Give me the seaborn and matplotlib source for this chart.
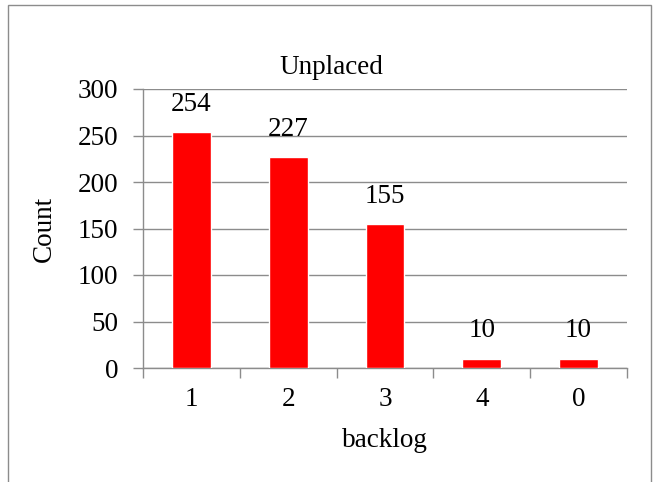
import matplotlib
matplotlib.use("Agg")
import matplotlib.pyplot as plt
import seaborn as sns
import pandas as pd
from matplotlib.patches import Rectangle
from matplotlib.ticker import FixedLocator

categories = ["1", "2", "3", "4", "0"]
counts = [254, 227, 155, 10, 10]
y_ticks = [0, 50, 100, 150, 200, 250, 300]

df = pd.DataFrame({"backlog": categories, "Count": counts})

sns.set_theme(style="white")
plt.rcParams["font.family"] = ["Liberation Serif", "DejaVu Serif"]
plt.rcParams["text.color"] = "black"
plt.rcParams["axes.labelcolor"] = "black"
plt.rcParams["xtick.color"] = "black"
plt.rcParams["ytick.color"] = "black"

FS = 19.5
GRID = "#8c8c8c"

W, H = 665, 482
fig = plt.figure(figsize=(W / 100, H / 100), dpi=100)
ax = fig.add_axes([143 / W, 1 - 368 / H, (627 - 143) / W, (368 - 89) / H])

sns.barplot(data=df, x="backlog", y="Count", order=categories, color="#ff0000",
            saturation=1, width=0.4, ax=ax, zorder=3)

ax.set_ylim(0, 300)
ax.set_xlim(-0.5, len(categories) - 0.5)
ax.set_yticks(y_ticks)
ax.yaxis.grid(True, color=GRID, linewidth=1, zorder=0)
ax.set_axisbelow(True)

for s in ["top", "right"]:
    ax.spines[s].set_visible(False)
for s in ["left", "bottom"]:
    ax.spines[s].set_color(GRID)
    ax.spines[s].set_linewidth(1)

ax.tick_params(axis="y", which="major", direction="out", length=7, width=1,
               color=GRID, labelcolor="black", labelsize=FS, pad=11, left=True)
ax.tick_params(axis="x", which="major", length=0, labelcolor="black",
               labelsize=FS, pad=14)
ax.xaxis.set_minor_locator(FixedLocator([i - 0.5 for i in range(len(categories) + 1)]))
ax.tick_params(axis="x", which="minor", direction="out", length=7, width=1,
               color=GRID, bottom=True)

for i, v in enumerate(counts):
    ax.annotate(str(v), xy=(i, v), xytext=(0, 11), textcoords="offset points",
                ha="center", va="bottom", fontsize=FS, color="black")

ax.set_xlabel("backlog", fontsize=FS, labelpad=11, color="black")
ax.set_ylabel("Count", fontsize=FS, labelpad=15, color="black")
fig.text(331 / W, 1 - 68 / H, "Unplaced", ha="center", va="center",
         fontsize=FS, color="black")

fig.patches.append(Rectangle((8 / W, -0.05), (651 - 8) / W, 1.05 - 5 / H,
                             transform=fig.transFigure, fill=False,
                             edgecolor=GRID, linewidth=1))

fig.savefig("out.png", dpi=100, facecolor="white")
